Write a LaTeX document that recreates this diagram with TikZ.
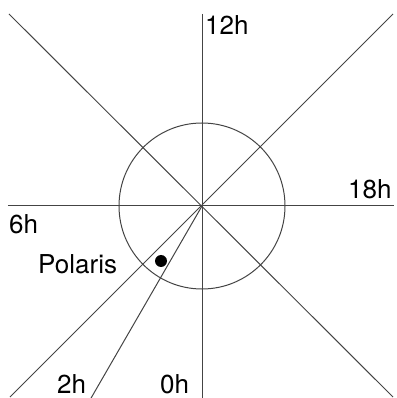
\documentclass[tikz,border=0pt]{standalone}
\usepackage{fontspec}
\setmainfont{TeX Gyre Heros}
\usetikzlibrary{positioning,calc}
\definecolor{rule}{HTML}{444444}

\begin{document}
\begin{tikzpicture}[x=1pt, y=1pt,
    hourline/.style={line width=1pt, draw=rule},
    hourlabel/.style={font=\fontsize{26}{30}\selectfont, text=black, inner sep=0pt, anchor=base west}]
    \useasboundingbox (-202, -192) rectangle (194, 206);

    % Centre and end points
    \coordinate (O) at (0, 0);
    \coordinate (top) at (0, 192);
    \coordinate (bottom) at (0, -192);
    \coordinate (left) at (-194, 0);
    \coordinate (right) at (192, 0);
    \coordinate (nw) at (-193, 192);
    \coordinate (se) at (191, -191);
    \coordinate (ne) at (191, 192);
    \coordinate (sw) at (-192, -191);
    \coordinate (twoh) at (-110.9, -192);

    % Hour lines
    \draw[hourline] (top) -- (bottom);
    \draw[hourline] (left) -- (right);
    \draw[hourline] (nw) -- (se);
    \draw[hourline] (ne) -- (sw);
    \draw[hourline] (O) -- (twoh);

    % Circle round the pole
    \draw[hourline] (O) circle (83);

    % Polaris
    \fill[black] (-41, -55) circle (6);

    % Labels
    \node[hourlabel] (l12) at (3, 171) {12h};
    \node[hourlabel] (l18) at (146, 7) {18h};
    \node[hourlabel] (l6) at (-193, -28) {6h};
    \node[hourlabel] (lpol) at (-164, -68) {Polaris};
    \node[hourlabel] (l2) at (-145, -187) {2h};
    \node[hourlabel] (l0) at (-42, -187) {0h};
\end{tikzpicture}
\end{document}
